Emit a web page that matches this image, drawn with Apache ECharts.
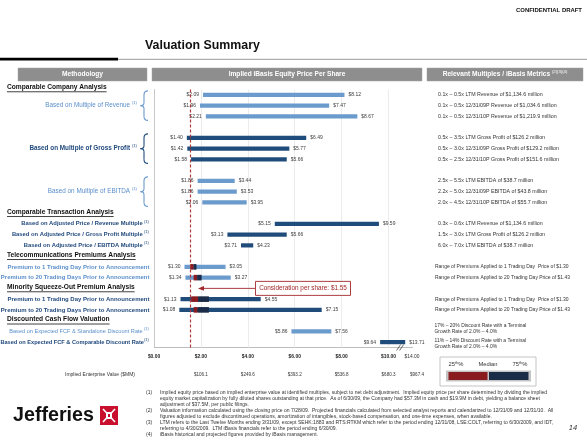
<!DOCTYPE html>
<html><head><meta charset="utf-8">
<script src="https://cdn.jsdelivr.net/npm/echarts@6/dist/echarts.min.js"></script>
<style>html,body{margin:0;padding:0;background:#fff}#c{width:587px;height:440px}</style>
</head><body><div id="c"></div><script>
// ---------------- DATA ----------------
const rowKeys = ['rev_ltm','rev_09p','rev_10p','gap1','gp_ltm','gp_09p','gp_10p','gap2','ebitda_ltm','ebitda_09p','ebitda_10p','cta_head','cta_rev','cta_gp','cta_ebitda','tel_head','tel_1d','tel_20d','min_head','min_1d','min_20d','dcf_head','dcf_sa','dcf_comp'];
const lowValues  = [2.09,1.96,2.21,null,1.40,1.42,1.58,null,1.86,1.86,2.06,null,5.15,3.13,3.71,null,1.30,1.34,null,1.13,1.08,null,5.86,9.64];
const highValues = [8.12,7.47,8.67,null,6.49,5.77,5.66,null,3.44,3.53,3.95,null,9.59,5.66,4.23,null,3.05,3.27,null,4.55,7.15,null,7.56,13.71];
const barTone    = ['light','light','light','','dark','dark','dark','','light','light','light','','dark','dark','dark','','light','light','','dark','dark','','light','dark'];
const pctRows   = [16,17,19,20];
const p25       = [1.55,1.69,1.59,1.69];
const pMedian   = [1.69,1.84,1.88,1.86];
const p75       = [1.81,2.03,2.34,2.34];
const consideration = 1.55;
const xTicks      = [0,2,4,6,8,10,14];
const xTickLabels = ['$0.00','$2.00','$4.00','$6.00','$8.00','$10.00','$14.00'];
const evLabels    = ['','$106.1','$249.6','$393.2','$536.8','$680.3','$967.4'];
const sectionHeads = ['Comparable Company Analysis','Comparable Transaction Analysis','Telecommunications Premiums Analysis','Minority Squeeze-Out Premium Analysis','Discounted Cash Flow Valuation'];
const sectionRows  = [-1,11,15,18,21];
const groupNames = ['Based on Multiple of Revenue','Based on Multiple of Gross Profit','Based on Multiple of EBITDA'];
const groupFirstRow = [0,4,8];
const groupTone = ['light','dark','light'];
const itemNames = ['','','','','','','','','','','','',
  'Based on Adjusted Price / Revenue Multiple','Based on Adjusted Price / Gross Profit Multiple','Based on Adjusted Price / EBITDA Multiple','',
  'Premium to 1 Trading Day Prior to Announcement','Premium to 20 Trading Days Prior to Announcement','',
  'Premium to 1 Trading Day Prior to Announcement','Premium to 20 Trading Days Prior to Announcement','',
  'Based on Expected FCF & Standalone Discount Rate','Based on Expected FCF & Comparable Discount Rate'];
const itemTone = ['','','','','','','','','','','','','dark','dark','dark','','light','light','','dark','dark','','light','dark'];
const metricLines = [
  '0.1x \u2013 0.5x LTM Revenue of $1,134.6 million',
  '0.1x \u2013 0.5x 12/31/09P Revenue of $1,034.6 million',
  '0.1x \u2013 0.5x 12/31/10P Revenue of $1,219.9 million','',
  '0.5x \u2013 3.5x LTM Gross Profit of $126.2 million',
  '0.5x \u2013 3.0x 12/31/09P Gross Profit of $129.2 million',
  '0.5x \u2013 2.5x 12/31/10P Gross Profit of $151.6 million','',
  '2.5x \u2013 5.5x LTM EBITDA of $38.7 million',
  '2.2x \u2013 5.0x 12/31/09P EBITDA of $43.8 million',
  '2.0x \u2013 4.5x 12/31/10P EBITDA of $55.7 million','',
  '0.3x \u2013 0.6x LTM Revenue of $1,134.6 million',
  '1.5x \u2013 3.0x LTM Gross Profit of $126.2 million',
  '6.0x \u2013 7.0x LTM EBITDA of $38.7 million','',
  'Range of Premiums Applied to 1 Trading Day  Price of $1.30',
  'Range of Premiums Applied to 20 Trading Day Price of $1.43','',
  'Range of Premiums Applied to 1 Trading Day  Price of $1.30',
  'Range of Premiums Applied to 20 Trading Day Price of $1.43','',
  '17% \u2013 20% Discount Rate with a Terminal\nGrowth Rate of 2.0% \u2013 4.0%',
  '11% \u2013 14% Discount Rate with a Terminal\nGrowth Rate of 2.0% \u2013 4.0%'];
const footnotes = [
  ['(1)','Implied equity price based on implied enterprise value at identified multiples, subject to net debt adjustment.  Implied equity price per share determined by dividing the implied','equity market capitalization by fully diluted shares outstanding at that price.  As of 6/30/09, the Company had $57.3M in cash and $19.9M in debt, yielding a balance sheet','adjustment of $37.5M, per public filings.'],
  ['(2)','Valuation information calculated using the closing price on 7/28/09.  Projected financials calculated from selected analyst reports and calendarized to 12/31/09 and 12/31/10.  All','figures adjusted to exclude discontinued operations, amortization of intangibles, stock-based compensation, and one-time expenses, when available.'],
  ['(3)','LTM refers to the Last Twelve Months ending 3/31/09, except SEHK:1883 and RTS:RTKM which refer to the period ending 12/31/08, LSE:COLT, referring to 6/30/2009, and IDT,','referring to 4/30/2009.  LTM iBasis financials refer to the period ending 6/30/09.'],
  ['(4)','iBasis historical and projected figures provided by iBasis management.']];

// ---------------- STYLE ----------------
const FN = "'Liberation Sans Narrow','Liberation Sans',Arial,sans-serif";
const FA = "'Liberation Sans',Arial,sans-serif";
const LIGHT = '#6B9ACD', DARK = '#1F4C7B', RED = '#8A1B1E', NAVY = '#1A2C47';
const TXT_LIGHT = '#5B8FCB', TXT_DARK = '#1F487C', CRED = '#A3272B';
const money = v => '$' + v.toFixed(2);
const mctx = document.createElement('canvas').getContext('2d');
const tw = (t, size, weight, fam) => { mctx.font = (weight || 'normal') + ' ' + size + 'px ' + fam; return mctx.measureText(t).width; };
const fit = (t, target, weight, fam) => 10 * target / tw(t, 10, weight, fam || FN);

const S = {
  head: fit('Telecommunications Premiums Analysis', 129, 'bold'),
  group: fit('Based on Multiple of Revenue', 85, 'normal'),
  cta: fit('Based on Adjusted Price / Gross Profit Multiple', 131, 'bold'),
  prem: fit('Premium to 20 Trading Days Prior to Announcement', 149, 'bold'),
  dcf: fit('Based on Expected FCF & Standalone Discount Rate', 134, 'normal'),
  metMult: fit('0.1x \u2013 0.5x LTM Revenue of $1,134.6 million', 105, 'normal'),
  metRange: fit('Range of Premiums Applied to 20 Trading Day Price of $1.43', 135, 'normal'),
  metDcf: fit('17% \u2013 20% Discount Rate with a Terminal', 92, 'normal'),
  val: fit('$8.12', 12.5, 'normal'),
  tick: fit('$10.00', 15, 'bold', FA),
  tick14: fit('$14.00', 15, 'normal'),
  ev: fit('$106.1', 14, 'normal'),
  foot: fit(footnotes[0][1], 388, 'normal'),
  title: fit('Valuation Summary', 115, 'bold', FA),
  conf: fit('CONFIDENTIAL DRAFT', 66, 'bold', FA),
  hdr: fit('Implied iBasis Equity Price Per Share', 117, 'bold'),
  cons: fit('Consideration per share: $1.55', 88, 'normal'),
  evcap: fit('Implied Enterprise Value ($MM)', 70, 'normal'),
  logo: fit('Jefferies', 81, 'bold')
};

const barData = [];
rowKeys.forEach((k, i) => { if (lowValues[i] != null) barData.push([lowValues[i], highValues[i], i]); });
const pctData = pctRows.map((r, i) => [p25[i], pMedian[i], p75[i], r]);
const gridValues = xTicks.filter(v => v > 0 && v < 12);

const axisBreaks = [{start: 10, end: 13, gap: 0}];
const chart = echarts.init(document.getElementById('c'));
chart.setOption({
  animation: false,
  grid: {left: 154, top: 89.5, width: 258, height: 258, containLabel: false, outerBoundsMode: 'none'},
  xAxis: {
    type: 'value', min: 0, max: 14, interval: 2, breaks: axisBreaks, breakArea: {show: false},
    axisLine: {show: true, onZero: false, lineStyle: {color: '#bdbdbd', width: 1}}, axisTick: {show: false},
    splitLine: {show: false}, axisLabel: {show: false}
  },
  yAxis: {type: 'value', min: -0.5, max: rowKeys.length - 0.5, inverse: true,
    axisLine: {show: true, onZero: false, lineStyle: {color: '#c8c8c8'}}, axisTick: {show: false},
    axisLabel: {show: false}, splitLine: {show: false}},
  series: [{
    type: 'custom', name: 'range', data: barData, encode: {x: [0, 1], y: 2}, z: 3,
    renderItem: (params, api) => {
      const lo = api.value(0), hi = api.value(1), row = api.value(2);
      const a = api.coord([lo, row]), b = api.coord([hi, row]);
      const h = 4.2;
      return {type: 'group', children: [
        {type: 'rect', shape: {x: a[0], y: a[1] - h / 2, width: b[0] - a[0], height: h}, style: {fill: barTone[row] === 'light' ? LIGHT : DARK}},
        {type: 'text', x: a[0] - 4, y: a[1], style: {text: money(lo), align: 'right', verticalAlign: 'middle', fontSize: S.val, fontFamily: FN, fill: '#3b3b3b'}},
        {type: 'text', x: b[0] + 4, y: b[1], style: {text: money(hi), align: 'left', verticalAlign: 'middle', fontSize: S.val, fontFamily: FN, fill: '#3b3b3b'}}
      ]};
    },
    markLine: {silent: true, symbol: 'none', label: {show: false}, z: 5,
      lineStyle: {color: '#B03A3A', type: [3, 2], width: 1.2}, data: [{xAxis: consideration}]}
  }, {
    type: 'custom', name: 'percentiles', data: pctData, encode: {x: [0, 1, 2], y: 3}, z: 4,
    renderItem: (params, api) => {
      const row = api.value(3);
      const a = api.coord([api.value(0), row]), m = api.coord([api.value(1), row]), c = api.coord([api.value(2), row]);
      const h = 5.6;
      return {type: 'group', children: [
        {type: 'rect', shape: {x: a[0], y: a[1] - h / 2, width: m[0] - a[0], height: h}, style: {fill: RED}},
        {type: 'rect', shape: {x: m[0], y: m[1] - h / 2, width: c[0] - m[0], height: h}, style: {fill: NAVY}}
      ]};
    },
    markLine: {silent: true, symbol: 'none', label: {show: false}, z: 1,
      lineStyle: {color: '#ececec', type: 'solid', width: 1}, data: gridValues.map(v => ({xAxis: v}))}
  }]
});

// ---------------- OVERLAY TEXT / DECORATION ----------------
function drawOverlay() {
  const ry = k => chart.convertToPixel({yAxisIndex: 0}, k);
  const rx = v => chart.convertToPixel({xAxisIndex: 0}, v);
  const rowY = k => ry(k);
  const step = ry(1) - ry(0);
  const yAxisBottom = ry(rowKeys.length - 1) + step / 2;
  const g = [];
  const T = (x, y, text, o, z) => g.push({type: 'text', x: x, y: y, z: z || 20, style: Object.assign({text: text, align: 'left', verticalAlign: 'middle', fontFamily: FN, fill: '#333'}, o)});
  // top
  T(582, 10, 'CONFIDENTIAL DRAFT', {align: 'right', fontSize: S.conf, fontWeight: 'bold', fontFamily: FA, fill: '#111'});
  T(145, 46, 'Valuation Summary', {fontSize: S.title, fontWeight: 'bold', fontFamily: FA, fill: '#111'});
  g.push({type: 'rect', shape: {x: 0, y: 57.8, width: 118, height: 2.6}, style: {fill: '#000'}});
  g.push({type: 'line', shape: {x1: 118, y1: 59.3, x2: 587, y2: 59.3}, style: {stroke: '#9a9a9a', lineWidth: 1}});
  // header boxes
  const heads = [[18, 147, '{h|Methodology}'], [152, 422, '{h|Implied iBasis Equity Price Per Share}'], [427, 583, '{h|Relevant Multiples / iBasis Metrics }{s|(2)(3)(4)}']];
  heads.forEach(hd => {
    g.push({type: 'rect', shape: {x: hd[0], y: 68, width: hd[1] - hd[0], height: 13}, style: {fill: '#8e8e8e', stroke: '#a0a0a0', lineWidth: 0.5}});
    T((hd[0] + hd[1]) / 2, 74.5, hd[2], {align: 'center',
      rich: {h: {fontSize: S.hdr, fontWeight: 'bold', fontFamily: FN, fill: '#fff', lineHeight: 9}, s: {fontSize: 4.2, fontFamily: FN, fill: '#fff', verticalAlign: 'top', lineHeight: 9}}});
  });
  // x tick labels and implied EV labels
  xTicks.forEach((v, i) => {
    const x = rx(v);
    const last = i === xTicks.length - 1;
    T(x, yAxisBottom + 9.5, xTickLabels[i], {align: 'center', fontSize: last ? S.tick14 : S.tick, fontWeight: last ? 'normal' : 'bold', fontFamily: last ? FN : FA, fill: last ? '#333' : '#222'});
    if (evLabels[i]) T(last ? x + 5 : x, yAxisBottom + 27.5, evLabels[i], {align: 'center', fontSize: S.ev});
  });
  // section headings (bold underlined)
  sectionHeads.forEach((t, i) => {
    const y = i === 0 ? rowY(0) - 7.5 : rowY(sectionRows[i]) - 1;
    const w = tw(t, S.head, 'bold', FN);
    T(7, y, t, {fontSize: S.head, fontWeight: 'bold', fill: '#111'});
    g.push({type: 'line', shape: {x1: 7, y1: y + 4.4, x2: 7 + w, y2: y + 4.4}, style: {stroke: '#111', lineWidth: 0.8}});
  });
  // grouped labels with braces
  groupNames.forEach((t, i) => {
    const r0 = groupFirstRow[i];
    const yT = rowY(r0) - 4, yB = rowY(r0 + 2) + 4, yM = rowY(r0 + 1);
    const col = groupTone[i] === 'light' ? TXT_LIGHT : TXT_DARK;
    const bcol = groupTone[i] === 'light' ? LIGHT : DARK;
    T(137, yM, '{m|' + t + ' }{s|(1)}', {align: 'right',
      rich: {m: {fontSize: S.group, fontFamily: FN, fontWeight: groupTone[i] === 'dark' ? 'bold' : 'normal', fill: col, lineHeight: 9}, s: {fontSize: 4.2, fontFamily: FN, fill: col, verticalAlign: 'top', lineHeight: 9}}});
    const x0 = 140.5, xm = 144, x1 = 148;
    const st = {stroke: bcol, lineWidth: 1.1, fill: null};
    g.push({type: 'bezierCurve', shape: {x1: x1, y1: yT, cpx1: xm, cpy1: yT, x2: xm, y2: yT + 4}, style: st});
    g.push({type: 'line', shape: {x1: xm, y1: yT + 4, x2: xm, y2: yM - 3}, style: st});
    g.push({type: 'bezierCurve', shape: {x1: xm, y1: yM - 3, cpx1: xm, cpy1: yM, x2: x0, y2: yM}, style: st});
    g.push({type: 'bezierCurve', shape: {x1: x0, y1: yM, cpx1: xm, cpy1: yM, x2: xm, y2: yM + 3}, style: st});
    g.push({type: 'line', shape: {x1: xm, y1: yM + 3, x2: xm, y2: yB - 4}, style: st});
    g.push({type: 'bezierCurve', shape: {x1: xm, y1: yB - 4, cpx1: xm, cpy1: yB, x2: x1, y2: yB}, style: st});
  });
  // single-row items
  itemNames.forEach((t, r) => {
    if (!t) return;
    const col = itemTone[r] === 'light' ? TXT_LIGHT : TXT_DARK;
    let fs, right, sup;
    if (r <= 14) { fs = S.cta; right = 149; sup = '{s| (1)}'; }
    else if (r <= 20) { fs = S.prem; right = 149.5; sup = ''; }
    else { fs = S.dcf; right = 149; sup = r === 23 ? '{s|(1)}' : '{s| (1)}'; }
    const bold = r !== 22;
    T(right, rowY(r), '{m|' + t + '}' + sup, {align: 'right',
      rich: {m: {fontSize: fs, fontFamily: FN, fontWeight: bold ? 'bold' : 'normal', fill: col, lineHeight: 9}, s: {fontSize: 4.2, fontFamily: FN, fill: col, verticalAlign: 'top', lineHeight: 9}}});
  });
  // metrics column
  metricLines.forEach((t, r) => {
    if (!t) return;
    let x = 438, y = rowY(r), fs = S.metMult;
    if (r >= 16 && r <= 20) { x = 435; fs = S.metRange; }
    if (r >= 22) { x = 434.5; fs = S.metDcf; y = r === 22 ? y - 2.5 : y + 1.5; }
    T(x, y, t, {fontSize: fs, lineHeight: fs * 1.02 + 0.5, fill: '#333'});
  });
  // consideration callout (drawn above grid lines)
  const yc = rowY(18);
  g.push({type: 'line', z: 30, shape: {x1: 255, y1: yc, x2: 202, y2: yc}, style: {stroke: CRED, lineWidth: 0.9}});
  g.push({type: 'polygon', z: 30, shape: {points: [[198, yc], [204, yc - 2.3], [204, yc + 2.3]]}, style: {fill: CRED}});
  g.push({type: 'rect', z: 30, shape: {x: 255.5, y: yc - 7, width: 95, height: 14}, style: {fill: '#fff', stroke: CRED, lineWidth: 0.9}});
  T(303, yc, 'Consideration per share: $1.55', {align: 'center', fontSize: S.cons, fill: CRED}, 31);
  // axis break mark
  const xbk = rx(13.6) - 3, yb = yAxisBottom;
  g.push({type: 'line', z: 30, shape: {x1: xbk - 3, y1: yb + 3, x2: xbk + 1, y2: yb - 3}, style: {stroke: '#444', lineWidth: 0.8}});
  g.push({type: 'line', z: 30, shape: {x1: xbk, y1: yb + 3, x2: xbk + 4, y2: yb - 3}, style: {stroke: '#444', lineWidth: 0.8}});
  // EV caption
  T(100, yb + 27.5, 'Implied Enterprise Value ($MM)', {align: 'center', fontSize: S.evcap});
  // legend box
  g.push({type: 'rect', shape: {x: 440, y: 357, width: 96, height: 29}, style: {fill: '#fff', stroke: '#b5b5b5', lineWidth: 0.8}});
  const lr = {m: {fontSize: 5.8, fontFamily: FN, fill: '#333', lineHeight: 8}, s: {fontSize: 3.8, fontFamily: FN, fill: '#333', verticalAlign: 'top', lineHeight: 8}};
  T(456, 364.5, '{m|25}{s|th}{m|%}', {align: 'center', rich: lr});
  T(488, 364.5, '{m|Median}', {align: 'center', rich: lr});
  T(520, 364.5, '{m|75}{s|th}{m|%}', {align: 'center', rich: lr});
  g.push({type: 'rect', shape: {x: 446, y: 370.5, width: 85, height: 11}, style: {fill: '#c4c4c4'}});
  g.push({type: 'rect', shape: {x: 448.5, y: 372, width: 39, height: 8}, style: {fill: RED}});
  g.push({type: 'rect', shape: {x: 489, y: 372, width: 39.5, height: 8}, style: {fill: NAVY}});
  // footnotes
  let fy = 393;
  footnotes.forEach(fn => {
    T(146, fy, fn[0], {fontSize: S.foot});
    for (let j = 1; j < fn.length; j++) { T(160, fy, fn[j], {fontSize: S.foot}); fy += 6; }
  });
  // logo
  T(13, 415.5, 'Jefferies', {fontSize: S.logo, fontWeight: 'bold', fill: '#111'});
  g.push({type: 'rect', shape: {x: 100, y: 406, width: 18, height: 19}, style: {fill: '#C8102E'}});
  g.push({type: 'line', shape: {x1: 103, y1: 409, x2: 115, y2: 422}, style: {stroke: '#fff', lineWidth: 1.6}});
  g.push({type: 'line', shape: {x1: 115, y1: 409, x2: 103, y2: 422}, style: {stroke: '#fff', lineWidth: 1.6}});
  g.push({type: 'rect', shape: {x: 106, y: 412, width: 6, height: 7}, style: {fill: '#fff'}});
  g.push({type: 'rect', shape: {x: 108, y: 414, width: 2, height: 3}, style: {fill: '#C8102E'}});
  // page number
  T(573, 428, '14', {align: 'center', fontSize: 7.5, fontStyle: 'italic', fontFamily: FA});
  chart.setOption({graphic: g});
}
drawOverlay();
</script></body></html>
